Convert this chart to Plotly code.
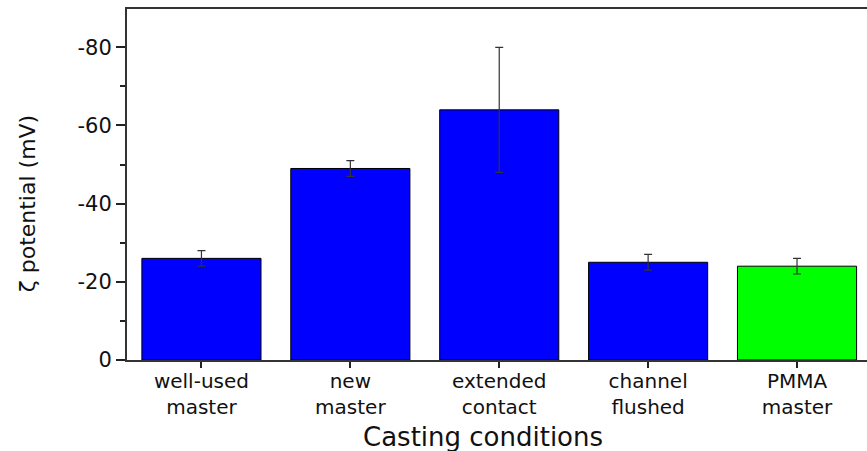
import plotly.graph_objects as go

# Zeta potential of PDMS casts under different casting conditions
categories = ["well-used<br>master", "new<br>master", "extended<br>contact",
              "channel<br>flushed", "PMMA<br>master"]
zeta_mv = [-26, -49, -64, -25, -24]
zeta_err = [2, 2, 16, 2, 2]
bar_colors = ["#0000FF", "#0000FF", "#0000FF", "#0000FF", "#00FF00"]
y_ticks = [0, -20, -40, -60, -80]

x_title = "Casting conditions"
y_title = "ζ potential (mV)"

FONT = "DejaVu Sans, Liberation Sans, Arial, sans-serif"

fig = go.Figure(
    go.Bar(
        x=list(range(len(categories))),
        y=zeta_mv,
        width=0.8,
        marker=dict(color=bar_colors, line=dict(color="#000000", width=1)),
        error_y=dict(type="data", array=zeta_err, visible=True,
                     color="#333333", thickness=1.2, width=4),
    )
)

fig.update_layout(
    width=867,
    height=451,
    margin=dict(l=127, r=0, t=9, b=91),
    paper_bgcolor="white",
    plot_bgcolor="white",
    showlegend=False,
    font=dict(family=FONT, color="#111111"),
)

fig.update_xaxes(
    range=[-0.5, 4.47],
    tickmode="array",
    tickvals=list(range(len(categories))),
    ticktext=categories,
    ticks="outside",
    ticklen=6,
    tickwidth=1.5,
    tickcolor="#222222",
    ticklabelstandoff=-4,
    showline=True,
    linecolor="#333333",
    linewidth=2,
    mirror=True,
    showgrid=False,
    zeroline=False,
    tickfont=dict(size=20, family=FONT),
)

fig.update_yaxes(
    range=[0, -89.8],
    tickmode="array",
    tickvals=y_ticks,
    ticktext=[str(v) for v in y_ticks],
    ticks="outside",
    ticklen=9,
    tickwidth=1.5,
    tickcolor="#222222",
    minor=dict(dtick=10, tick0=0, ticks="outside", ticklen=5,
               tickwidth=1.5, tickcolor="#222222"),
    showline=True,
    linecolor="#333333",
    linewidth=2,
    mirror=False,
    showgrid=False,
    zeroline=False,
    tickfont=dict(size=21, family=FONT),
)

# Axis titles placed as paper-referenced annotations
fig.add_annotation(text=x_title, xref="paper", yref="paper",
                   x=0.481, y=-0.219, xanchor="center", yanchor="middle",
                   showarrow=False, font=dict(size=26, family=FONT, color="#111111"))
fig.add_annotation(text=y_title, xref="paper", yref="paper",
                   x=-0.135, y=0.444, xanchor="center", yanchor="middle",
                   textangle=-90, showarrow=False,
                   font=dict(size=22, family=FONT, color="#111111"))

fig.write_html("out.html")
